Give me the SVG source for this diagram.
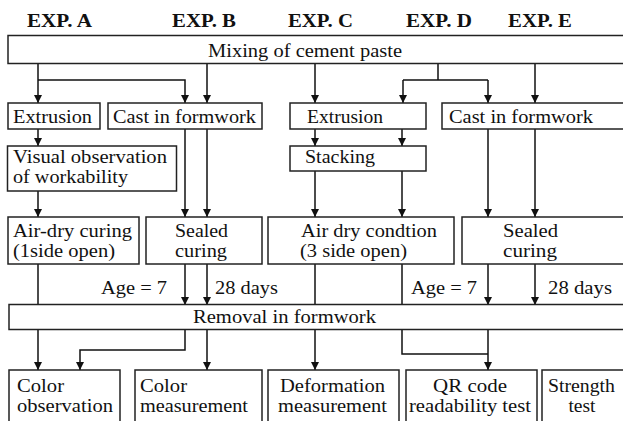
<svg xmlns="http://www.w3.org/2000/svg" width="623" height="421" viewBox="0 0 623 421">
<defs>
<marker id="ah" markerUnits="userSpaceOnUse" markerWidth="9" markerHeight="9" refX="8" refY="4.5" orient="auto">
<path d="M0,0.5 L8,4.5 L0,8.5 z" fill="#111"/>
</marker>
<style>
.box{fill:#fff;stroke:#222;stroke-width:1.5}
.t{font-family:'Liberation Serif','Times New Roman',Times,serif;font-size:19.5px;fill:#111}
.h{font-family:'Liberation Serif','Times New Roman',Times,serif;font-size:18px;font-weight:bold;fill:#111}
.c{fill:none;stroke:#111;stroke-width:1.5}
.a{marker-end:url(#ah)}
</style>
</defs>
<rect width="623" height="421" fill="#fff"/>

<g id="headers">
<text class="h" x="27" y="27" textLength="65" lengthAdjust="spacingAndGlyphs">EXP. A</text>
<text class="h" x="172" y="27" textLength="64" lengthAdjust="spacingAndGlyphs">EXP. B</text>
<text class="h" x="288" y="27" textLength="65" lengthAdjust="spacingAndGlyphs">EXP. C</text>
<text class="h" x="406" y="27" textLength="66" lengthAdjust="spacingAndGlyphs">EXP. D</text>
<text class="h" x="508" y="27" textLength="64" lengthAdjust="spacingAndGlyphs">EXP. E</text>
</g>

<g id="connectors">
<path class="c a" d="M38,63 V103"/>
<path class="c a" d="M38,80 H185 V103"/>
<path class="c a" d="M207,63 V103"/>
<path class="c a" d="M315,63 V103"/>
<path class="c" d="M438,63 V80 M403,80 H488"/>
<path class="c a" d="M403,80 V103"/>
<path class="c a" d="M488,80 V103"/>
<path class="c a" d="M535,63 V103"/>
<path class="c a" d="M38,129 V146"/>
<path class="c a" d="M38,191 V217"/>
<path class="c a" d="M185,129 V217"/>
<path class="c a" d="M207,129 V217"/>
<path class="c a" d="M315,129 V146"/>
<path class="c a" d="M402,129 V146"/>
<path class="c a" d="M315,171 V217"/>
<path class="c a" d="M402,171 V217"/>
<path class="c a" d="M488,129 V217"/>
<path class="c a" d="M535,129 V217"/>
<path class="c" d="M38,264 V305"/>
<path class="c a" d="M185,264 V305"/>
<path class="c a" d="M207,264 V305"/>
<path class="c" d="M315,264 V305"/>
<path class="c" d="M402,264 V305"/>
<path class="c a" d="M488,264 V305"/>
<path class="c a" d="M535,264 V305"/>
<path class="c a" d="M38,330 V370"/>
<path class="c a" d="M185,330 V350 H80 V370"/>
<path class="c a" d="M207,330 V370"/>
<path class="c a" d="M315,330 V370"/>
<path class="c" d="M402,330 V354 H488"/>
<path class="c a" d="M488,330 V370"/>
</g>

<g id="mixing">
<rect class="box" x="8" y="35.5" width="625" height="28"/>
<text class="t" x="208" y="57" textLength="194" lengthAdjust="spacingAndGlyphs">Mixing of cement paste</text>
</g>
<g id="extrusion-a">
<rect class="box" x="8" y="103" width="92" height="26"/>
<text class="t" x="13" y="123" textLength="79" lengthAdjust="spacingAndGlyphs">Extrusion</text>
</g>
<g id="cast-b">
<rect class="box" x="108" y="103" width="154" height="26"/>
<text class="t" x="113" y="123" textLength="143" lengthAdjust="spacingAndGlyphs">Cast in formwork</text>
</g>
<g id="extrusion-c">
<rect class="box" x="290" y="103" width="136" height="26"/>
<text class="t" x="307" y="123" textLength="76" lengthAdjust="spacingAndGlyphs">Extrusion</text>
</g>
<g id="cast-de">
<rect class="box" x="442" y="103" width="200" height="26"/>
<text class="t" x="449" y="123" textLength="144" lengthAdjust="spacingAndGlyphs">Cast in formwork</text>
</g>
<g id="visual">
<rect class="box" x="7.5" y="146" width="169" height="45"/>
<text class="t" x="13" y="163" textLength="154" lengthAdjust="spacingAndGlyphs">Visual observation</text>
<text class="t" x="13" y="183" textLength="115" lengthAdjust="spacingAndGlyphs">of workability</text>
</g>
<g id="stacking">
<rect class="box" x="290" y="146" width="136" height="25"/>
<text class="t" x="305" y="163" textLength="70" lengthAdjust="spacingAndGlyphs">Stacking</text>
</g>
<g id="airdry-a">
<rect class="box" x="8" y="217" width="131" height="47"/>
<text class="t" x="13" y="237" textLength="119" lengthAdjust="spacingAndGlyphs">Air-dry curing</text>
<text class="t" x="13" y="257" textLength="102" lengthAdjust="spacingAndGlyphs">(1side open)</text>
</g>
<g id="sealed-b">
<rect class="box" x="146" y="217" width="116" height="47"/>
<text class="t" x="175" y="237" textLength="53" lengthAdjust="spacingAndGlyphs">Sealed</text>
<text class="t" x="175" y="257" textLength="52" lengthAdjust="spacingAndGlyphs">curing</text>
</g>
<g id="airdry-c">
<rect class="box" x="268" y="217" width="186" height="47"/>
<text class="t" x="301" y="237" textLength="136" lengthAdjust="spacingAndGlyphs">Air dry condtion</text>
<text class="t" x="300" y="257" textLength="107" lengthAdjust="spacingAndGlyphs">(3 side open)</text>
</g>
<g id="sealed-e">
<rect class="box" x="462" y="217" width="180" height="47"/>
<text class="t" x="503" y="237" textLength="55" lengthAdjust="spacingAndGlyphs">Sealed</text>
<text class="t" x="503" y="257" textLength="54" lengthAdjust="spacingAndGlyphs">curing</text>
</g>
<g id="age-labels">
<text class="t" x="101" y="294" textLength="66" lengthAdjust="spacingAndGlyphs">Age = 7</text>
<text class="t" x="215" y="294" textLength="63" lengthAdjust="spacingAndGlyphs">28 days</text>
<text class="t" x="411" y="294" textLength="66" lengthAdjust="spacingAndGlyphs">Age = 7</text>
<text class="t" x="548" y="294" textLength="64" lengthAdjust="spacingAndGlyphs">28 days</text>
</g>
<g id="removal">
<rect class="box" x="9" y="304.5" width="630" height="25"/>
<text class="t" x="193" y="323" textLength="183" lengthAdjust="spacingAndGlyphs">Removal in formwork</text>
</g>
<g id="color-observation">
<rect class="box" x="9" y="370" width="111" height="60"/>
<text class="t" x="17" y="392" textLength="47" lengthAdjust="spacingAndGlyphs">Color</text>
<text class="t" x="17" y="412" textLength="96" lengthAdjust="spacingAndGlyphs">observation</text>
</g>
<g id="color-measurement">
<rect class="box" x="135" y="370" width="127" height="60"/>
<text class="t" x="140" y="392" textLength="47" lengthAdjust="spacingAndGlyphs">Color</text>
<text class="t" x="140" y="412" textLength="108" lengthAdjust="spacingAndGlyphs">measurement</text>
</g>
<g id="deformation">
<rect class="box" x="268" y="370" width="131" height="60"/>
<text class="t" x="280" y="392" textLength="105" lengthAdjust="spacingAndGlyphs">Deformation</text>
<text class="t" x="278" y="412" textLength="109" lengthAdjust="spacingAndGlyphs">measurement</text>
</g>
<g id="qr-code">
<rect class="box" x="406" y="370" width="131" height="60"/>
<text class="t" x="433" y="392" textLength="74" lengthAdjust="spacingAndGlyphs">QR code</text>
<text class="t" x="409" y="412" textLength="122" lengthAdjust="spacingAndGlyphs">readability test</text>
</g>
<g id="strength">
<rect class="box" x="542" y="370" width="100" height="60"/>
<text class="t" x="548" y="392" textLength="67" lengthAdjust="spacingAndGlyphs">Strength</text>
<text class="t" x="582" y="412" text-anchor="middle">test</text>
</g>
</svg>
